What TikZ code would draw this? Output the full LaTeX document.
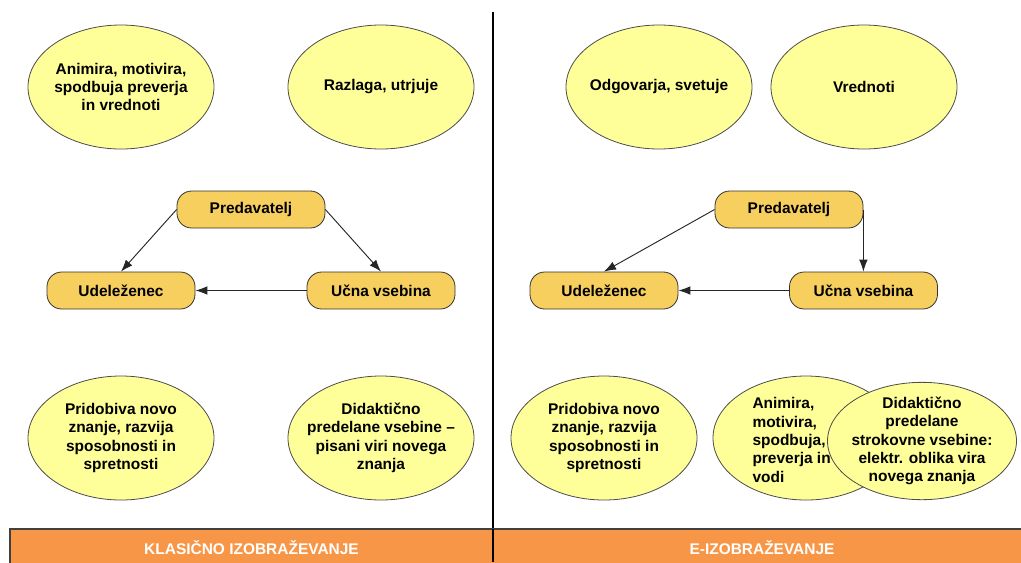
\documentclass[tikz,border=0pt]{standalone}
\usepackage{fontspec}
\setmainfont{Liberation Sans}
\usetikzlibrary{shapes.geometric,arrows.meta}

\definecolor{ideafill}{HTML}{FFFF99}
\definecolor{rolefill}{HTML}{F6CF5E}
\definecolor{barfill}{HTML}{F79646}

\tikzset{every picture/.style={line width=0.75pt}}
\tikzset{
  idea/.style={ellipse, draw=black!70, line width=0.6pt, fill=ideafill, inner sep=0pt, minimum width=139.5pt, minimum height=93pt},
  role/.style={rounded corners=11pt, draw=black!80, line width=0.6pt, fill=rolefill, inner sep=0pt, minimum width=111pt, minimum height=27.75pt, font=\fontsize{11.6}{13.8}\selectfont\bfseries},
  ideatext/.style={align=center, inner sep=0pt, font=\fontsize{11.6}{13.8}\selectfont\bfseries},
  bartext/.style={text=white, inner sep=0pt, font=\fontsize{11.6}{13.8}\selectfont\bfseries},
  flow/.style={draw=black!85, line width=0.7pt, -{Latex[length=9pt,width=6.5pt]}}
}

\begin{document}
\begin{tikzpicture}[x=0.75pt,y=0.75pt,yscale=-1,xscale=1]
\useasboundingbox (0,0) rectangle (1021,562);

%Straight Lines 
\draw  [line width=1pt]  (493,12) -- (493,562) ;

%Shape: Rectangle 
\draw  [draw=black!75, line width=1pt, fill=barfill]  (10,529) rectangle (1030,570) ;
\draw  [line width=1pt]  (493,529) -- (493,562) ;
% Text Node
\node[bartext] (klasbar) at (251.5,548) {KLASIČNO IZOBRAŽEVANJE};
% Text Node
\node[bartext] (ebar) at (762,548) {E-IZOBRAŽEVANJE};

% ---- klasicno izobrazevanje ----
%Shape: Ellipse 
\node[idea] (animK) at (121,87) {};
\node[ideatext] (animKtxt) at (animK) {Animira, motivira,\\spodbuja preverja\\in vrednoti};
%Shape: Ellipse 
\node[idea] (razlK) at (381,87) {};
\node[ideatext] (razlKtxt) at (razlK) {Razlaga, utrjuje};
%Shape: Ellipse 
\node[idea] (pridK) at (121,438) {};
\node[ideatext] (pridKtxt) at (pridK) {Pridobiva novo\\znanje, razvija\\sposobnosti in\\spretnosti};
%Shape: Ellipse 
\node[idea] (didK) at (381,438) {};
\node[ideatext] (didKtxt) at (didK) {Didaktično\\predelane vsebine --\\pisani viri novega\\znanja};

%Rounded Rect 
\node[role] (predK) at (251,209.5) {Predavatelj};
\node[role] (udelK) at (121,290.5) {Udeleženec};
\node[role] (ucnaK) at (381,290.5) {Učna vsebina};

\draw[flow] (predK.west) -- (udelK.north);
\draw[flow] (predK.east) -- (ucnaK.north);
\draw[flow] (ucnaK.west) -- (udelK.east);

% ---- e-izobrazevanje ----
%Shape: Ellipse 
\node[idea] (odgE) at (659,87) {};
\node[ideatext] (odgEtxt) at (odgE) {Odgovarja, svetuje};
%Shape: Ellipse 
\node[idea] (vredE) at (864,87) {};
\node[ideatext] (vredEtxt) at (vredE) {Vrednoti};
%Shape: Ellipse 
\node[idea] (pridE) at (604,438) {};
\node[ideatext] (pridEtxt) at (pridE) {Pridobiva novo\\znanje, razvija\\sposobnosti in\\spretnosti};
%Shape: Ellipse 
\node[idea] (animE) at (806,438) {};
\node[ideatext, align=left, anchor=west] (animEtxt) at (752,440) {Animira,\\motivira,\\spodbuja,\\preverja in\\vodi};
%Shape: Ellipse 
\node[idea, minimum width=141.75pt, minimum height=88pt] (didE) at (922,441) {};
\node[ideatext] (didEtxt) at (didE) {Didaktično\\predelane\\strokovne vsebine:\\elektr. oblika vira\\novega znanja};

%Rounded Rect 
\node[role] (predE) at (789,209.5) {Predavatelj};
\node[role] (udelE) at (604,290.5) {Udeleženec};
\node[role] (ucnaE) at (863.5,290.5) {Učna vsebina};

\draw[flow] (predE.west) -- (udelE.north);
\draw[flow] (predE.east) -- (predE.east |- ucnaE.north);
\draw[flow] (ucnaE.west) -- (udelE.east);

\end{tikzpicture}
\end{document}
